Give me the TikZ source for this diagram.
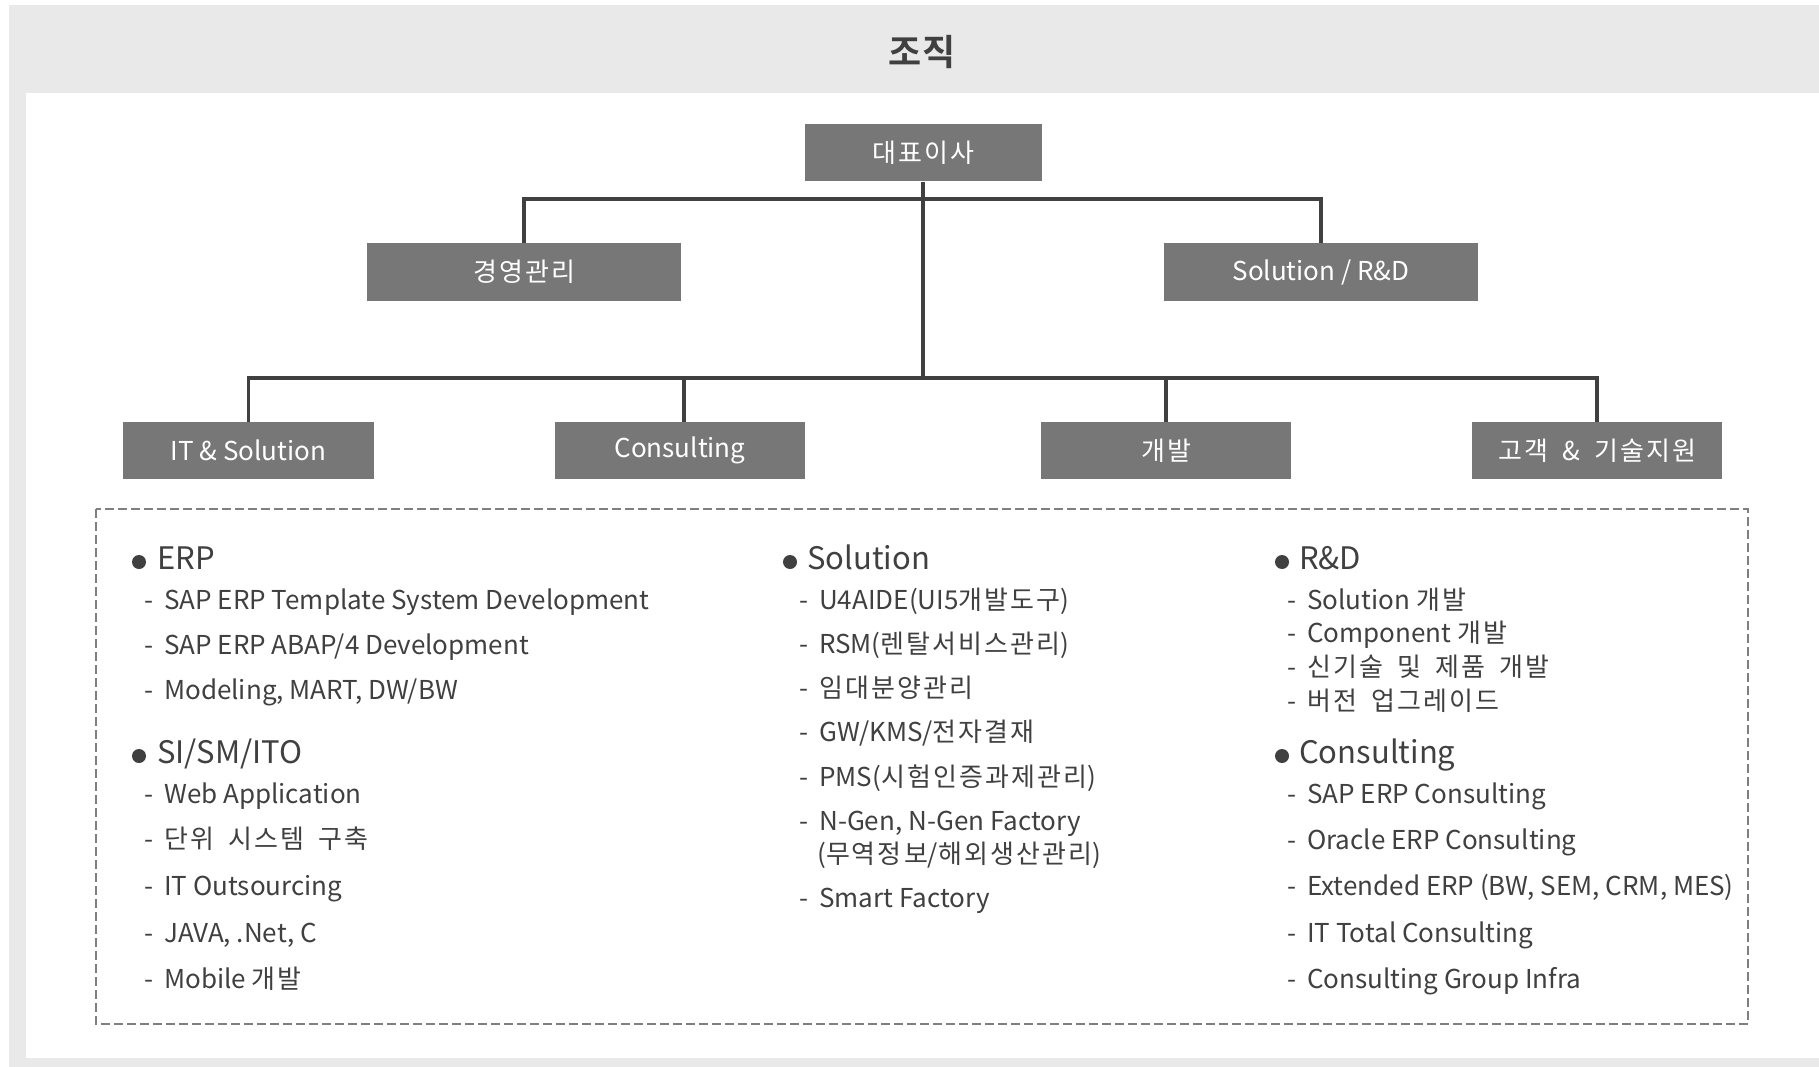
\documentclass[tikz,border=0pt]{standalone}
\usepackage{fontspec}
\setmainfont{Noto Sans CJK KR}[BoldFont={Noto Sans CJK KR Bold}]
\newfontfamily\kr{Noto Sans CJK KR}[LetterSpace=8,WordSpace=1.8]
\definecolor{bggray}{HTML}{E9E9E9}
\definecolor{boxgray}{HTML}{777777}
\definecolor{linegray}{HTML}{404040}
\definecolor{txtgray}{HTML}{404040}
\definecolor{dashgray}{HTML}{7F7F7F}
\begin{document}
\begin{tikzpicture}[x=1pt,y=-1pt,
  orgbox/.style={fill=boxgray,text=white,minimum height=57pt,inner sep=0pt,
    font=\fontsize{26}{30}\selectfont},
  conn/.style={draw=linegray,line width=3.5pt},
  itm/.style={anchor=base west,inner sep=0pt,text=txtgray,font=\fontsize{26}{30}\selectfont},
  hd/.style={anchor=base west,inner sep=0pt,text=txtgray,font=\fontsize{31}{36}\selectfont},
  bul/.style={circle,fill=txtgray,inner sep=0pt,minimum size=14pt}]
\useasboundingbox (0,0) rectangle (1819,1067);
\fill[white] (0,0) rectangle (1819,1067);
\fill[bggray] (9,5) rectangle (1819,1067);
\fill[white] (26,93) rectangle (1819,1058);
\node[text=txtgray,font=\fontsize{36}{40}\selectfont\bfseries] (title) at (922,52) {조직};
% boxes
\node[orgbox,minimum width=237pt] (ceo) at (923,153) {{\kr 대표이사}};
\node[orgbox,minimum width=314pt] (mgmt) at (524,272) {{\kr 경영관리}};
\node[orgbox,minimum width=314pt] (sol) at (1321,272) {Solution / R\&D};
\node[orgbox,minimum width=251pt] (it) at (248.5,450.5) {IT \& Solution};
\node[orgbox,minimum width=250pt] (cons) at (680,450.5) {Consulting};
\node[orgbox,minimum width=250pt] (dev) at (1166,450.5) {{\kr 개발}};
\node[orgbox,minimum width=250pt] (cust) at (1597,450.5) {{\kr 고객 \& 기술지원}};
% connectors
\coordinate (j1) at (923,199);
\coordinate (j2) at (923,378);
\draw[conn] (ceo.south) -- (j2);
\draw[conn] (mgmt.north) |- (j1) -| (sol.north);
\draw[conn] (it.north) |- (j2) -| (cust.north);
\draw[conn] ([xshift=4pt]cons.north) -- ([xshift=4pt]cons.north |- j2);
\draw[conn] (dev.north) -- (dev.north |- j2);
% dashed frame
\draw[dashgray,line width=2pt,dash pattern=on 9pt off 4pt] (96,509) rectangle (1748,1024);
% column 1
\node[bul] (b1) at (139,562) {};
\node[hd] (h1) at (157,569) {ERP};
\node[itm] (i11) at (144,609) {-\hspace{11pt}SAP ERP Template System Development};
\node[itm] (i12) at (144,654) {-\hspace{11pt}SAP ERP ABAP/4 Development};
\node[itm] (i13) at (144,699) {-\hspace{11pt}Modeling, MART, DW/BW};
\node[bul] (b2) at (139,756) {};
\node[hd] (h2) at (157,763) {SI/SM/ITO};
\node[itm] (i21) at (144,803) {-\hspace{11pt}Web Application};
\node[itm] (i22) at (144,848) {-\hspace{11pt}{\kr 단위 시스템 구축}};
\node[itm] (i23) at (144,895) {-\hspace{11pt}IT Outsourcing};
\node[itm] (i24) at (144,942) {-\hspace{11pt}JAVA, .Net, C};
\node[itm] (i25) at (144,988) {-\hspace{11pt}Mobile {\kr 개발}};
% column 2
\node[bul] (b3) at (790,562) {};
\node[hd] (h3) at (807,569) {Solution};
\node[itm] (i31) at (799,609) {-\hspace{11pt}U4AIDE(UI5{\kr 개발도구})};
\node[itm] (i32) at (799,653) {-\hspace{11pt}RSM({\kr 렌탈서비스관리})};
\node[itm] (i33) at (799,697) {-\hspace{11pt}{\kr 임대분양관리}};
\node[itm] (i34) at (799,741) {-\hspace{11pt}GW/KMS/{\kr 전자결재}};
\node[itm] (i35) at (799,786) {-\hspace{11pt}PMS({\kr 시험인증과제관리})};
\node[itm] (i36) at (799,830) {-\hspace{11pt}N-Gen, N-Gen Factory};
\node[itm] (i37) at (817,863) {({\kr 무역정보}/{\kr 해외생산관리})};
\node[itm] (i38) at (799,907) {-\hspace{11pt}Smart Factory};
% column 3
\node[bul] (b4) at (1282,562) {};
\node[hd] (h4) at (1299,569) {R\&D};
\node[itm] (i41) at (1287,609) {-\hspace{11pt}Solution {\kr 개발}};
\node[itm] (i42) at (1287,642) {-\hspace{11pt}Component {\kr 개발}};
\node[itm] (i43) at (1287,676) {-\hspace{11pt}{\kr 신기술 및 제품 개발}};
\node[itm] (i44) at (1287,710) {-\hspace{11pt}{\kr 버전 업그레이드}};
\node[bul] (b5) at (1282,756) {};
\node[hd] (h5) at (1299,763) {Consulting};
\node[itm] (i51) at (1287,803) {-\hspace{11pt}SAP ERP Consulting};
\node[itm] (i52) at (1287,849) {-\hspace{11pt}Oracle ERP Consulting};
\node[itm] (i53) at (1287,895) {-\hspace{11pt}Extended ERP (BW, SEM, CRM, MES)};
\node[itm] (i54) at (1287,942) {-\hspace{11pt}IT Total Consulting};
\node[itm] (i55) at (1287,988) {-\hspace{11pt}Consulting Group Infra};
\end{tikzpicture}
\end{document}
